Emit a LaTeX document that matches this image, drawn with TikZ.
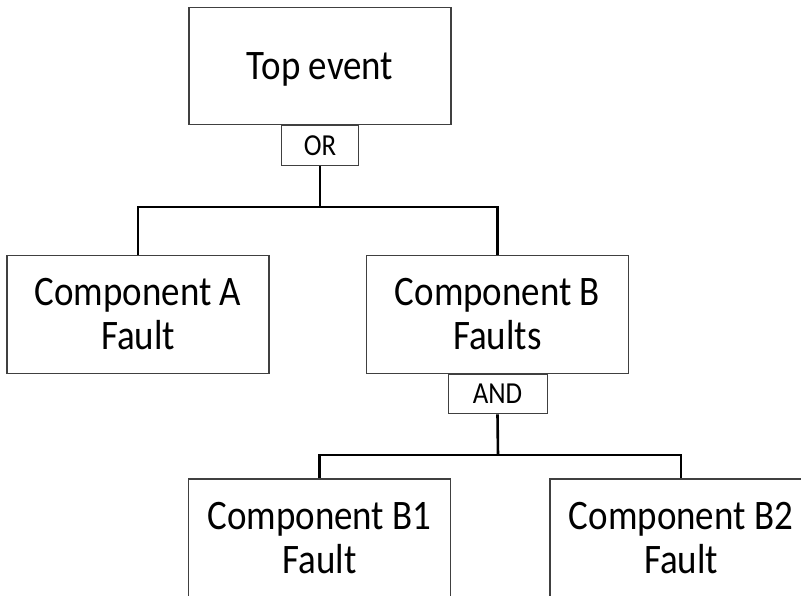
\documentclass[tikz,border=0pt]{standalone}
\usepackage{fontspec}
\setmainfont{Carlito}[FakeStretch=0.88]
\begin{document}
\begin{tikzpicture}[x=1pt,y=-1pt,
  event/.style={draw=black!75, line width=1.2pt, inner sep=0pt,
    minimum width=262pt, minimum height=117.5pt, align=center,
    font=\fontsize{42}{44}\selectfont},
  single/.style={text height=26.7pt, text depth=0pt},
  gate/.style={draw=black!75, line width=1pt, inner sep=0pt,
    minimum height=39.5pt, text height=19.5pt, text depth=0pt,
    font=\fontsize{30.5}{32}\selectfont},
  conn/.style={line width=2.6pt, line join=miter}]
\useasboundingbox (0,0) rectangle (801,595);
\clip (0,0) rectangle (801,595);

% events
\node[event, single] (top) at (320,66) {Top event};
\node[event] (ca) at (138,314.5) {Component A\\Fault};
\node[event] (cb) at (497.5,314.5) {Component B\\Faults};
\node[event] (cb1) at (319.5,537.75) {Component B1\\Fault};
\node[event] (cb2) at (681,537.75) {Component B2\\Fault};

% gates
\node[gate, minimum width=76.5pt, anchor=north] (orgate) at (top.south) {OR};
\node[gate, minimum width=99pt, anchor=north] (andgate) at (cb.south) {AND};

% junctions
\coordinate (orj) at (320,207);
\coordinate (andj) at (498,455);

% connectors
\draw[conn] (orgate.south) -- (orj);
\draw[conn] (ca.north) |- (orj) -| (cb.north);
\draw[conn] (andgate.south) -- (andj);
\draw[conn] (cb1.north) |- (andj) -| (cb2.north);
\end{tikzpicture}
\end{document}
